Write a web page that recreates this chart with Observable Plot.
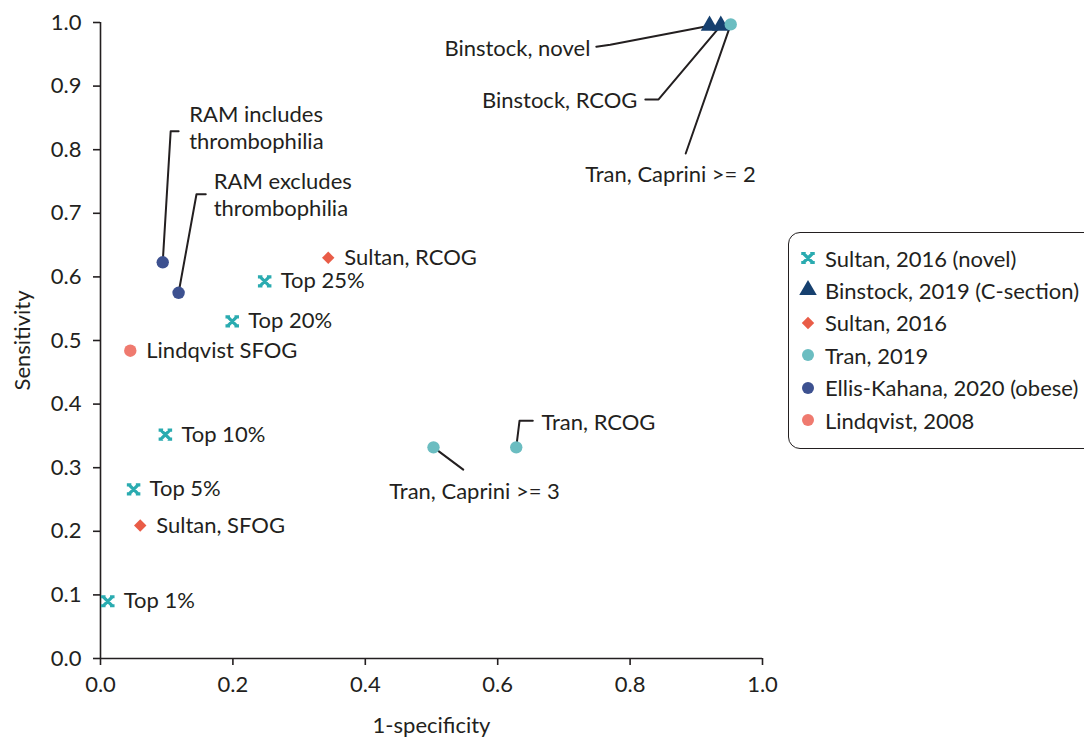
<!DOCTYPE html>
<html><head><meta charset="utf-8">
<script src="https://cdn.jsdelivr.net/npm/d3@7"></script>
<script src="https://cdn.jsdelivr.net/npm/@observablehq/plot@0.6"></script>
<style>
html,body{margin:0;padding:0;background:#fff;overflow:hidden;}
body{font-family:Lato,sans-serif;color:#231f20;}
#wrap{position:relative;width:1084px;height:738px;overflow:hidden;}
#chart{position:absolute;left:0;top:0;}
#legend{position:absolute;left:788px;top:232px;width:340px;height:217px;border:1.6px solid #231f20;border-radius:12px;box-sizing:border-box;background:#fff;}
.row{position:absolute;left:8px;height:30px;display:flex;align-items:center;font-size:22px;white-space:nowrap;}
.row svg{margin-right:6px;}
</style></head>
<body><div id="wrap"><div id="chart"></div><div id="legend"></div></div>
<script>
// ---- data ----
const seriesNames = ["Sultan, 2016 (novel)", "Binstock, 2019 (C-section)", "Sultan, 2016", "Tran, 2019", "Ellis-Kahana, 2020 (obese)", "Lindqvist, 2008"];
const seriesColors = ["#2aabb0", "#16406f", "#e95c47", "#6bbdc1", "#3d5190", "#ef7a6f"];

const sultanNovelLabels = ["Top 1%", "Top 5%", "Top 10%", "Top 20%", "Top 25%"];
const sultanNovelX = [0.011, 0.050, 0.098, 0.199, 0.248];
const sultanNovelY = [0.090, 0.266, 0.352, 0.530, 0.593];

const binstockLabels = ["Binstock, novel", "Binstock, RCOG"];
const binstockX = [0.920, 0.937];
const binstockY = [0.995, 0.995];

const sultanLabels = ["Sultan, SFOG", "Sultan, RCOG"];
const sultanX = [0.060, 0.344];
const sultanY = [0.209, 0.630];

const tranLabels = ["Tran, Caprini >= 3", "Tran, RCOG", "Tran, Caprini >= 2"];
const tranX = [0.503, 0.628, 0.952];
const tranY = [0.332, 0.332, 0.997];

const ellisLabels = ["RAM includes\nthrombophilia", "RAM excludes\nthrombophilia"];
const ellisX = [0.094, 0.118];
const ellisY = [0.623, 0.575];

const lindqvistLabels = ["Lindqvist SFOG"];
const lindqvistX = [0.045];
const lindqvistY = [0.484];

const xTickValues = [0, 0.2, 0.4, 0.6, 0.8, 1.0];
const yTickValues = [0, 0.1, 0.2, 0.3, 0.4, 0.5, 0.6, 0.7, 0.8, 0.9, 1.0];

// callout annotations (label anchor in data units, leader-line bends in data units)
const calloutLabels = ["Binstock, novel", "Binstock, RCOG", "Tran, Caprini >= 2", "RAM includes\nthrombophilia", "RAM excludes\nthrombophilia", "Tran, Caprini >= 3", "Tran, RCOG"];
const calloutTextX = [0.740, 0.811, 0.861, 0.134, 0.171, 0.565, 0.666];
const calloutTextY = [0.961, 0.879, 0.762, 0.836, 0.730, 0.264, 0.373];
const calloutAnchor = ["end", "end", "middle", "start", "start", "middle", "start"];
const calloutBendX = [[0.770, 0.749], [0.843, 0.823], [0.884], [0.106, 0.118], [0.145, 0.159], [0.548], [0.633, 0.653]];
const calloutBendY = [[0.965, 0.962], [0.879, 0.879], [0.794], [0.829, 0.829], [0.730, 0.730], [0.297], [0.374, 0.374]];

// ---- build tables ----
const groups = [
  [sultanNovelLabels, sultanNovelX, sultanNovelY],
  [binstockLabels, binstockX, binstockY],
  [sultanLabels, sultanX, sultanY],
  [tranLabels, tranX, tranY],
  [ellisLabels, ellisX, ellisY],
  [lindqvistLabels, lindqvistX, lindqvistY]
];
const points = [];
groups.forEach(([labs, xs, ys], gi) => labs.forEach((l, i) => points.push({series: seriesNames[gi], label: l, x: xs[i], y: ys[i]})));

const directLabels = points.filter(p => !calloutLabels.includes(p.label));
const leaderPaths = [];
const calloutTexts = [];
calloutLabels.forEach((l, i) => {
  const p = points.find(q => q.label === l);
  leaderPaths.push({id: i, x: p.x, y: p.y});
  calloutBendX[i].forEach((bx, j) => leaderPaths.push({id: i, x: bx, y: calloutBendY[i][j]}));
  calloutTexts.push({label: l, x: calloutTextX[i], y: calloutTextY[i], anchor: calloutAnchor[i]});
});

// custom marker: thick X with little horizontal feet at each arm end
const xCap = {
  draw(ctx, size) {
    const r = Math.sqrt(size / Math.PI);
    const a = r * 0.6, b = r * 0.3;
    ctx.moveTo(-a, -a); ctx.lineTo(a, a);
    ctx.moveTo(a, -a); ctx.lineTo(-a, a);
    [[-a, -a], [a, -a], [-a, a], [a, a]].forEach(([x, y]) => { ctx.moveTo(x - b, y); ctx.lineTo(x + b, y); });
  }
};
const seriesSymbols = [xCap, "triangle", "diamond2", "circle", "circle", "circle"];

const ink = "#231f20";
const FS = 22;
const dotMarks = seriesNames.map((s, i) => {
  const data = points.filter(p => p.series === s);
  if (i === 0) return Plot.dot(data, {x: "x", y: "y", symbol: xCap, r: 7.5, stroke: seriesColors[i], strokeWidth: 3.2, fill: "none"});
  const r = seriesSymbols[i] === "circle" ? 6.2 : seriesSymbols[i] === "triangle" ? 6.5 : 5.6;
  return Plot.dot(data, {x: "x", y: "y", symbol: seriesSymbols[i], r, fill: seriesColors[i], stroke: "none"});
});

const calloutMarks = ["start", "middle", "end"].map(anchor =>
  Plot.text(calloutTexts.filter(d => d.anchor === anchor), {x: "x", y: "y", text: "label", textAnchor: anchor, lineHeight: 1.22, fontSize: FS, fill: ink})
);

const chart = Plot.plot({
  width: 790, height: 738,
  marginLeft: 100, marginRight: 28, marginTop: 22, marginBottom: 80,
  style: {fontFamily: "Lato, sans-serif", fontSize: FS + "px", color: ink, background: "transparent"},
  x: {domain: [0, 1]},
  y: {domain: [0, 1]},
  marks: [
    Plot.axisX({ticks: xTickValues, tickFormat: d3.format(".1f"), tickSize: 7, tickPadding: 11, strokeWidth: 1.6, stroke: ink, fill: ink, label: null, fontSize: FS}),
    Plot.axisY({ticks: yTickValues, tickFormat: d3.format(".1f"), tickSize: 7, tickPadding: 12, strokeWidth: 1.6, stroke: ink, fill: ink, label: null, fontSize: FS}),
    Plot.ruleX([0], {stroke: ink, strokeWidth: 1.6}),
    Plot.ruleY([0], {stroke: ink, strokeWidth: 1.6}),
    Plot.text(["1-specificity"], {frameAnchor: "bottom", dy: 67, lineAnchor: "middle", textAnchor: "middle", fontSize: 22, fill: ink}),
    Plot.text(["Sensitivity"], {frameAnchor: "left", dx: -78, rotate: -90, lineAnchor: "middle", textAnchor: "middle", fontSize: 22, fill: ink}),
    Plot.line(leaderPaths, {x: "x", y: "y", z: "id", stroke: ink, strokeWidth: 2, curve: "linear"}),
    ...dotMarks,
    Plot.text(directLabels, {x: "x", y: "y", text: "label", textAnchor: "start", dx: 16, fontSize: FS, fill: ink}),
    ...calloutMarks
  ]
});
document.getElementById("chart").appendChild(chart);

// legend
const legend = document.getElementById("legend");
seriesNames.forEach((s, i) => {
  const row = document.createElement("div");
  row.className = "row";
  row.style.top = (10 + i * 32.4) + "px";
  const sym = i === 0 ? xCap : {triangle: d3.symbolTriangle, diamond2: d3.symbolDiamond2, circle: d3.symbolCircle}[seriesSymbols[i]];
  const rr = i === 0 ? 7.5 : seriesSymbols[i] === "circle" ? 6 : seriesSymbols[i] === "triangle" ? 6.5 : 5.6;
  const path = d3.symbol(sym, Math.PI * rr * rr)();
  const svg = d3.create("svg").attr("width", 22).attr("height", 22).attr("viewBox", "-11 -11 22 22");
  if (i === 0) svg.append("path").attr("d", path).attr("fill", "none").attr("stroke", seriesColors[i]).attr("stroke-width", 3.2);
  else svg.append("path").attr("d", path).attr("fill", seriesColors[i]);
  row.appendChild(svg.node());
  const span = document.createElement("span");
  span.textContent = s;
  row.appendChild(span);
  legend.appendChild(row);
});
</script>
</body></html>
